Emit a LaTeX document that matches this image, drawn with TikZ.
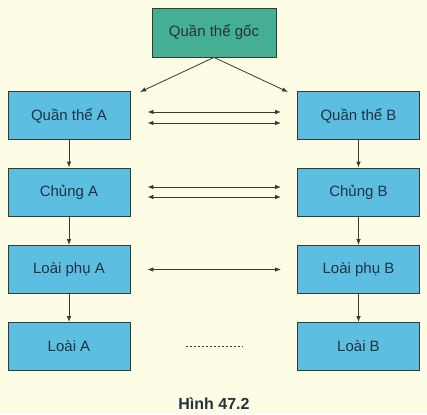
\documentclass[tikz,border=0pt]{standalone}
\usepackage{fontspec}
\setmainfont{Liberation Sans}
\usepackage{tikz}
\usetikzlibrary{arrows.meta}

\definecolor{paper}{HTML}{FDFCE4}
\definecolor{boxblue}{HTML}{5CBFE2}
\definecolor{boxgreen}{HTML}{45AF93}
\definecolor{ink}{HTML}{3A3A32}
\definecolor{words}{HTML}{22323F}

\tikzset{
  box/.style={draw=ink,line width=0.8pt,fill=boxblue,minimum width=122pt,minimum height=48pt,
    inner sep=0pt,text=words,font=\fontsize{15}{18}\selectfont},
  root/.style={box,fill=boxgreen,minimum width=124pt,minimum height=49pt},
  link/.style={draw=ink,line width=0.8pt,->},
  cross/.style={link,<->,shorten <=17pt,shorten >=16pt}
}

\begin{document}
\begin{tikzpicture}[x=1pt,y=-1pt,>={Latex[length=6pt,width=4.5pt]}]
      \fill[paper] (0,0) rectangle (427,414);
      \useasboundingbox (0,0) rectangle (427,414);

      \node[root] (0) at (214,32.5) {Quần thể gốc};
      \node[box] (1) at (69,115.5) {Quần thể A};
      \node[box] (2) at (358.5,115.5) {Quần thể B};
      \node[box] (3) at (69,192) {Chủng A};
      \node[box] (4) at (358.5,192) {Chủng B};
      \node[box] (5) at (69,269.5) {Loài phụ A};
      \node[box] (6) at (358.5,269.5) {Loài phụ B};
      \node[box] (7) at (69,346.5) {Loài A};
      \node[box] (8) at (358.5,346.5) {Loài B};
      \node[font=\fontsize{16}{19}\selectfont\bfseries,text=words] (9) at (214,404) {Hình 47.2};

      \coordinate (1a) at (140,92);
      \coordinate (2a) at (288,92);
      \draw[link] (0.south) -- (1a);
      \draw[link] (0.south) -- (2a);

      \draw[link] (1) -- (3);
      \draw[link] (3) -- (5);
      \draw[link] (5) -- (7);
      \draw[link] (2) -- (4);
      \draw[link] (4) -- (6);
      \draw[link] (6) -- (8);

      \draw[transform canvas={yshift=3.5pt},cross] (1) -- (2);
      \draw[transform canvas={yshift=-7.5pt},cross] (1) -- (2);
      \draw[transform canvas={yshift=5pt},cross] (3) -- (4);
      \draw[transform canvas={yshift=-5pt},cross] (3) -- (4);
      \draw[cross] (5) -- (6);
      \draw[ink,line width=0.8pt,dash pattern=on 1.2pt off 2.8pt,shorten <=56pt,shorten >=54pt] (7) -- (8);
    \end{tikzpicture}
\end{document}
